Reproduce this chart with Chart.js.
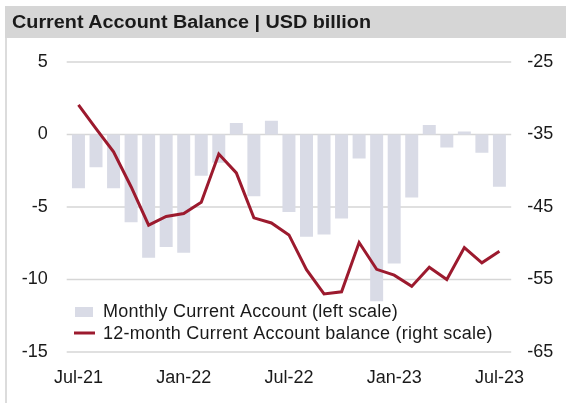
<!DOCTYPE html>
<html>
<head>
<meta charset="utf-8">
<script src="https://cdn.jsdelivr.net/npm/chart.js@4.4.1/dist/chart.umd.min.js"></script>
<style>
  body { margin: 0; background: #fff; }
  #wrap { position: relative; width: 566px; height: 403px; overflow: hidden; }
  #title {
    position: absolute; left: 5px; top: 6px; width: 561px; height: 32px;
    background: #d6d6d6; color: #1a1a1a;
    font: bold 18px "Liberation Sans", Arial, sans-serif;
    line-height: 33px; padding-left: 7px; box-sizing: border-box;
  }
  #title span { display: inline-block; transform: scaleX(1.1); transform-origin: left center; }
  #frame { position: absolute; left: 5px; top: 38px; width: 2px; height: 365px; background: #dcdcdc; }
  canvas { position: absolute; left: 0; top: 0; }
</style>
</head>
<body>
<div id="wrap">
  <canvas id="ca" width="566" height="403"></canvas>
  <div id="frame"></div>
  <div id="title"><span>Current Account Balance | USD billion</span></div>
</div>
<script>
"use strict";

var months = ["Jul-21", "Aug-21", "Sep-21", "Oct-21", "Nov-21", "Dec-21",
	"Jan-22", "Feb-22", "Mar-22", "Apr-22", "May-22", "Jun-22",
	"Jul-22", "Aug-22", "Sep-22", "Oct-22", "Nov-22", "Dec-22",
	"Jan-23", "Feb-23", "Mar-23", "Apr-23", "May-23", "Jun-23", "Jul-23"];

// monthly balance, left scale
var monthly = [-3.7, -2.25, -3.7, -6.05, -8.5, -7.75, -8.15, -2.85, -1.95, 0.8, -4.25, 0.95,
	-5.35, -7.05, -6.9, -5.8, -1.65, -11.5, -8.9, -4.35, 0.65, -0.9, 0.2, -1.25, -3.6];

// 12-month rolling balance, right scale
var rolling = [-30.9, -34.2, -37.4, -42.2, -47.5, -46.3, -45.9, -44.35, -37.7, -40.3, -46.5, -47.2,
	-48.85, -53.65, -57.0, -56.7, -49.9, -53.6, -54.4, -55.95, -53.3, -55.0, -50.6, -52.7, -51.1];

var leftTicks = [5, 0, -5, -10, -15];
var rightTicks = [-25, -35, -45, -55, -65];

var FONT = "'Liberation Sans', Arial, sans-serif";
var BAR_COLOR = "#d9dbe6";
var LINE_COLOR = "#9c1a2e";

// horizontal grid, a little wider than the category range
var gridPlugin = {
	id: "grid",
	beforeDatasetsDraw: function(chart) {
		var ctx = chart.ctx, area = chart.chartArea, y = chart.scales.y;
		ctx.save();
		ctx.strokeStyle = "#d6d6d6";
		ctx.lineWidth = 1.5;
		leftTicks.forEach(function(v) {
			var py = y.getPixelForValue(v);
			ctx.beginPath();
			ctx.moveTo(area.left - 3, py);
			ctx.lineTo(area.right + 3, py);
			ctx.stroke();
		});
		ctx.restore();
	}
};

// legend sits inside the plot, under the lowest line
var legendPlugin = {
	id: "innerLegend",
	afterDatasetsDraw: function(chart) {
		var ctx = chart.ctx, ds = chart.data.datasets;
		ctx.save();
		ctx.font = "18px " + FONT;
		ctx.letterSpacing = "0.25px";
		ctx.textBaseline = "middle";

		ctx.fillStyle = BAR_COLOR;
		ctx.fillRect(75, 307, 18, 10);
		ctx.fillStyle = "#1a1a1a";
		ctx.fillText(ds[0].label, 103, 312);

		ctx.strokeStyle = LINE_COLOR;
		ctx.lineWidth = 3;
		ctx.beginPath();
		ctx.moveTo(74, 333);
		ctx.lineTo(95, 333);
		ctx.stroke();
		ctx.fillText(ds[1].label, 103, 334);
		ctx.restore();
	}
};

var data = {
	labels: months,
	datasets: [
		{
			type: "bar",
			label: "Monthly Current Account (left scale)",
			data: monthly,
			yAxisID: "y",
			backgroundColor: BAR_COLOR,
			barPercentage: 0.74,
			categoryPercentage: 1,
			order: 2
		},
		{
			type: "line",
			label: "12-month Current Account balance (right scale)",
			data: rolling,
			yAxisID: "y2",
			borderColor: LINE_COLOR,
			borderWidth: 3,
			pointRadius: 0,
			tension: 0,
			order: 1
		}
	]
};

var tickFont = { family: FONT, size: 18 };

new Chart(document.getElementById("ca"), {
	data: data,
	plugins: [gridPlugin, legendPlugin],
	options: {
		responsive: false,
		animation: false,
		layout: { padding: { top: 62, left: 0, right: 0, bottom: 0 } },
		plugins: {
			legend: { display: false },
			tooltip: { enabled: false }
		},
		scales: {
			x: {
				grid: { display: false, drawTicks: false },
				border: { display: false },
				ticks: {
					autoSkip: false,
					maxRotation: 0,
					padding: 15,
					color: "#1a1a1a",
					font: tickFont,
					callback: function(v, i) { return i % 6 === 0 ? months[i] : ""; }
				},
				afterFit: function(s) { s.height = 51; }
			},
			y: {
				position: "left",
				min: -15,
				max: 5,
				grid: { display: false, drawTicks: false },
				border: { display: false },
				ticks: { stepSize: 5, padding: 22, color: "#1a1a1a", font: tickFont },
				afterFit: function(s) { s.width = 69.7; }
			},
			y2: {
				position: "right",
				min: -65,
				max: -25,
				grid: { display: false, drawTicks: false },
				border: { display: false },
				ticks: { stepSize: 10, padding: 19, color: "#1a1a1a", font: tickFont },
				afterFit: function(s) { s.width = 57.8; }
			}
		}
	}
});
</script>
</body>
</html>
